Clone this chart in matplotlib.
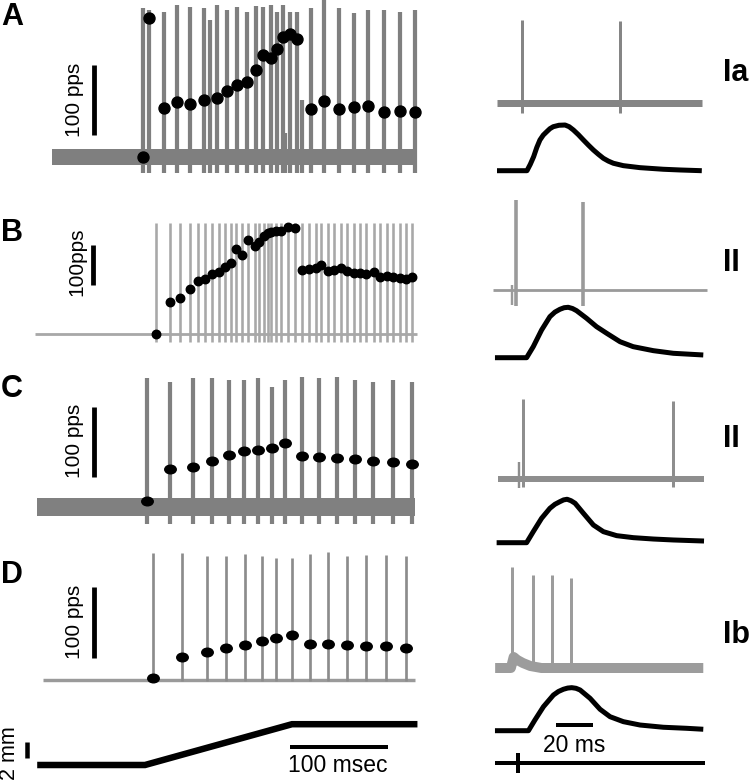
import matplotlib
matplotlib.use("Agg")
import matplotlib.pyplot as plt
from matplotlib.path import Path
from matplotlib.transforms import Affine2D

# ---------------- data ----------------
# Left column: time in ms (ramp onset = 0), instantaneous rate in pps
a_spike_t = [-2, 4, 19, 33, 46, 60, 73, 84, 94, 104, 113, 120, 129, 135, 141, 148, 155,
             169, 183, 198, 213, 228, 244, 260, 275]
a_rate = [0, 199, 70, 78, 76, 81, 84, 95, 103, 107, 124, 146, 141, 155, 172, 176, 168,
          69, 80, 69, 72, 73, 65, 66, 65]
a_spike_amp = [213, 210, 207, 217, 214, 213, 217, 210, 214, 207, 216, 214, 217, 207, 217,
               207, 207, 213, 224, 213, 206, 210, 210, 207, 210]
a_extra_t = [66, 143, 160]
a_extra_amp = [196, 34, 81]
a_span = [-95, 276]

b_spike_t = [11, 25, 36, 46, 54, 61, 68, 76, 82, 88, 93, 99, 105, 112, 116, 121, 125, 129,
             134, 139, 146, 153, 160, 167, 174, 180, 187, 193, 200, 206, 213, 219, 226, 234,
             240, 247, 253, 260, 266, 272]
b_rate = [0, 81, 91, 112, 132, 137, 150, 155, 168, 177, 212, 197, 235, 220, 231, 245, 253,
          256, 258, 257, 267, 264, 160, 162, 164, 172, 158, 160, 166, 158, 153, 152, 150,
          154, 143, 146, 143, 139, 137, 143]
b_spike_peak = 278
b_span = [-112, 278]

c_spike_t = [2, 26, 49, 68, 86, 101, 115, 130, 143, 160, 178, 196, 214, 233, 253, 272]
c_rate = [0, 45, 48, 57, 65, 71, 72, 76, 82, 64, 62, 61, 59, 57, 55, 52]
c_spike_amp = [175, 170, 175, 175, 173, 172, 176, 163, 172, 177, 175, 177, 172, 170, 172, 170]
c_span = [-110, 276]

d_spike_t = [8, 38, 63, 83, 102, 119, 134, 150, 168, 187, 206, 225, 246, 266]
d_rate = [0, 29, 36, 42, 46, 52, 56, 60, 48, 48, 46, 44, 44, 42]
d_spike_amp = [175, 175, 171, 171, 174, 172, 168, 169, 174, 177, 171, 173, 173, 171]
d_span = [-104, 276]

ramp_t = [-110, 0, 150, 278]
ramp_mm = [0, 0, 5.1, 5.1]

# Right column: time in ms, stretch in mm, spike trace in a.u.
ia_spike_t = [13.5, 66.5]
ia_spike_amp = [83, 82]
ia_span = [0, 111]
ia_stretch_t = [0, 16.2, 18, 19.8, 21.5, 23.2, 25, 26.9, 28.6, 30.4, 33.5, 36.8, 39, 41.3,
                44, 46.7, 49.4, 52.1, 54.8, 57.5, 60.2, 62.9, 68.3, 77.3, 89.9, 99, 110.7]
ia_stretch = [0, 0, 0.8, 1.75, 2.9, 3.84, 4.45, 4.88, 5.25, 5.5, 5.68, 5.71, 5.5, 5.09,
              4.5, 3.84, 3.2, 2.59, 2.05, 1.55, 1.2, 0.93, 0.63, 0.38, 0.18, 0.09, 0]

ii1_spike_t = [10.3, 46.5]
ii1_spike_amp = [90, 88]
ii1_blip_t = [8.1]
ii1_blip_amp = [5]
ii1_span = [-2, 113.5]
ii1_stretch_t = [-1.1, 16, 19.6, 24.1, 28.6, 31.3, 34, 36.3, 38.5, 40.8, 43, 48.4, 53.8,
                 59.3, 66.5, 73.6, 84.5, 95.3, 111.5]
ii1_stretch = [0, 0, 1.38, 3.46, 5.13, 5.7, 6.05, 6.25, 6.3, 6.15, 5.88, 4.93, 3.88, 3.05,
               2.0, 1.38, 0.88, 0.55, 0.34]

ii2_spike_t = [14.1, 95.1]
ii2_spike_amp = [80, 78]
ii2_blip_t = [11.9]
ii2_blip_amp = [17]
ii2_span = [0.5, 112]
ii2_stretch_t = [-0.2, 16, 19.6, 24.1, 28.6, 31.3, 34, 36, 37.9, 40, 42.2, 46.7, 52.1,
                 57.5, 64.7, 73.7, 84.5, 95.3, 111.9]
ii2_stretch = [0, 0, 1.38, 3.05, 4.3, 4.8, 5.13, 5.35, 5.43, 5.25, 4.93, 3.68, 2.21, 1.38,
               0.88, 0.63, 0.46, 0.34, 0.21]

ib_spike_t = [8.1, 19.5, 29.7, 40]
ib_spike_amp = [101, 93, 93, 90]
ib_tail_t = [-1, 7.5, 9, 11, 14, 18, 24, 111.5]
ib_tail = [0, 0, 11, 8, 5, 2, 0, 0]
ib_stretch_t = [-1.1, 17, 20.5, 25.1, 30.5, 33.2, 35.9, 38.2, 40.4, 42.7, 44.9, 50.3, 55.7,
                61.1, 68.3, 77.3, 89.9, 102.5, 111.5]
ib_stretch = [0, 0, 1.34, 3.0, 4.46, 4.9, 5.18, 5.33, 5.38, 5.3, 5.09, 4.05, 2.68, 1.75,
              1.13, 0.71, 0.43, 0.3, 0.18]
stim_span = [-1, 112.5]
stim_mark_t = 11.4

# ---------------- figure ----------------
W, H = 752, 783
plt.rcParams['font.family'] = ['Liberation Sans', 'DejaVu Sans']
fig = plt.figure(figsize=(W / 100, H / 100), dpi=100)
PT = 0.72  # points per pixel


def px_axes(x0, x1, y0, y1, ox, sx, oy, sy):
    ax = fig.add_axes([x0 / W, 1 - y1 / H, (x1 - x0) / W, (y1 - y0) / H])
    ax.set_xlim((x0 - ox) / sx, (x1 - ox) / sx)
    ax.set_ylim((oy - y1) / sy, (oy - y0) / sy)
    ax.set_axis_off()
    ax.patch.set_alpha(0)
    return ax


def ftext(x, y, s, **kw):
    fig.text(x / W, 1 - y / H, s, **kw)


ellipse = Path.unit_circle().transformed(Affine2D().scale(1.0, 0.75))

# ---- left panels ----
LX0, LX1, LOX, LSX = 0, 430, 145, 0.98
left_cfg = [
    dict(box=(0, 180), zero=157, s=0.7, span=a_span, base=0, base_lw=16, base_c='#7f7f7f',
         st=a_spike_t, samp=a_spike_amp, slow=-23, slw=4.2, sc='#7f7f7f',
         rt=a_spike_t, r=a_rate, mk='o', ms=11, bar=(94, 135), lab='100 pps', lab_xy=(75, 100),
         letter='A', let_y=25),
    dict(box=(185, 355), zero=334, s=0.4, span=b_span, base=0, base_lw=2.8, base_c='#a8a8a8',
         st=b_spike_t, samp=[b_spike_peak] * len(b_spike_t), slow=-20, slw=2.6, sc='#a8a8a8',
         rt=b_spike_t, r=b_rate, mk='o', ms=8.5, bar=(93, 285), lab='100pps', lab_xy=(77, 262),
         letter='B', let_y=241),
    dict(box=(365, 535), zero=500.7, s=0.7, span=c_span, base=-9, base_lw=18, base_c='#808080',
         st=c_spike_t, samp=c_spike_amp, slow=-33, slw=4.2, sc='#808080',
         rt=c_spike_t, r=c_rate, mk=ellipse, ms=11.5, bar=(94, 477), lab='100 pps', lab_xy=(75, 441),
         letter='C', let_y=397),
    dict(box=(545, 700), zero=677.7, s=0.71, span=d_span, base=-3, base_lw=3.4, base_c='#9a9a9a',
         st=d_spike_t, samp=d_spike_amp, slow=-5, slw=2.7, sc='#8c8c8c',
         rt=d_spike_t, r=d_rate, mk=ellipse, ms=11.5, bar=(94, 658), lab='100 pps', lab_xy=(75, 622),
         letter='D', let_y=583),
]

for i, c in enumerate(left_cfg):
    y0, y1 = c['box']
    ax = px_axes(LX0, LX1, y0, y1, LOX, LSX, c['zero'], c['s'])
    ax.plot(c['span'], [c['base'], c['base']], color=c['base_c'], lw=c['base_lw'] * PT,
            solid_capstyle='butt', clip_on=False, zorder=1)
    ax.vlines(c['st'], c['slow'], c['samp'], colors=c['sc'], linewidths=c['slw'] * PT,
              clip_on=False, zorder=2)
    if i == 0:
        ax.vlines(a_extra_t, c['slow'], a_extra_amp, colors=c['sc'],
                  linewidths=c['slw'] * PT, clip_on=False, zorder=2)
    ax.plot(c['rt'], c['r'], linestyle='none', marker=c['mk'], ms=c['ms'] * PT,
            color='black', mec='black', clip_on=False, zorder=3)
    # 100 pps scale bar
    bx, bbot = c['bar']
    tx = (bx - LOX) / LSX
    r0 = (c['zero'] - bbot) / c['s']
    ax.plot([tx, tx], [r0, r0 + 100], color='black', lw=4.8 * PT, solid_capstyle='butt',
            clip_on=False)
    lx, ly = c['lab_xy']
    ftext(lx, ly, c['lab'], rotation=90, ha='center', va='center', fontsize=15)
    ftext(1, c['let_y'], c['letter'], ha='left', va='baseline', fontsize=22, fontweight='bold')

# ramp
axr = px_axes(LX0, LX1, 700, 783, LOX, LSX, 765, 8)
axr.plot(ramp_t, ramp_mm, color='black', lw=6.5 * PT, solid_capstyle='butt',
         solid_joinstyle='miter', clip_on=False)
axr.plot([(290 - LOX) / LSX, (290 - LOX) / LSX + 100], [2.25, 2.25], color='black',
         lw=4 * PT, solid_capstyle='butt')
ftext(338, 772, '100 msec', ha='center', va='baseline', fontsize=16.5)
bx = (27 - LOX) / LSX
axr.plot([bx, bx], [0.875, 0.875 + 2], color='black', lw=4.5 * PT, solid_capstyle='butt',
         clip_on=False)
ftext(10, 753, '2 mm', rotation=90, ha='center', va='center', fontsize=15.5)

# ---- right panels ----
RX0, RX1, ROX, RSX = 480, 752, 497, 1.85
right_cfg = [
    dict(box=(0, 190), sbase=103, stb=170.7, span=ia_span, lw=7, c='#858585',
         st=ia_spike_t, samp=ia_spike_amp, slow=-10, slw=3.0, blip=None,
         xt=ia_stretch_t, xv=ia_stretch, lab='Ia', lab_y=81),
    dict(box=(190, 390), sbase=290, stb=357.7, span=ii1_span, lw=2.8, c='#9a9a9a',
         st=ii1_spike_t, samp=ii1_spike_amp, slow=-16, slw=3.6,
         blip=(ii1_blip_t, ii1_blip_amp, -15),
         xt=ii1_stretch_t, xv=ii1_stretch, lab='II', lab_y=271),
    dict(box=(390, 560), sbase=479, stb=542.7, span=ii2_span, lw=6, c='#8e8e8e',
         st=ii2_spike_t, samp=ii2_spike_amp, slow=-8, slw=3.0,
         blip=(ii2_blip_t, ii2_blip_amp, -9),
         xt=ii2_stretch_t, xv=ii2_stretch, lab='II', lab_y=447),
    dict(box=(560, 783), sbase=668, stb=730.7, span=None, lw=10, c='#9c9c9c',
         st=ib_spike_t, samp=ib_spike_amp, slow=0, slw=3.0, blip=None,
         xt=ib_stretch_t, xv=ib_stretch, lab='Ib', lab_y=643),
]

for i, c in enumerate(right_cfg):
    y0, y1 = c['box']
    axs = px_axes(RX0, RX1, y0, y1, ROX, RSX, c['sbase'], 1.0)
    if c['span'] is not None:
        axs.plot(c['span'], [0, 0], color=c['c'], lw=c['lw'] * PT, solid_capstyle='butt',
                 clip_on=False, zorder=1)
    else:
        axs.plot(ib_tail_t, ib_tail, color=c['c'], lw=c['lw'] * PT, solid_capstyle='butt',
                 clip_on=False, zorder=1)
    axs.vlines(c['st'], c['slow'], c['samp'], colors=c['c'], linewidths=c['slw'] * PT,
               clip_on=False, zorder=2)
    if c['blip'] is not None:
        bt, ba, bl = c['blip']
        axs.vlines(bt, bl, ba, colors=c['c'], linewidths=2.4 * PT, clip_on=False, zorder=2)
    axx = px_axes(RX0, RX1, y0, y1, ROX, RSX, c['stb'], 8.0)
    axx.plot(c['xt'], c['xv'], color='black', lw=5.0 * PT, solid_capstyle='butt',
             solid_joinstyle='round', clip_on=False)
    ftext(723, c['lab_y'], c['lab'], ha='left', va='baseline', fontsize=22, fontweight='bold')
    if i == 3:
        axx.plot([(556 - ROX) / RSX, (556 - ROX) / RSX + 20], [0.7, 0.7], color='black',
                 lw=4 * PT, solid_capstyle='butt')
        axx.plot(stim_span, [-4.04, -4.04], color='black', lw=4 * PT, solid_capstyle='butt',
                 clip_on=False)
        axx.plot([stim_mark_t, stim_mark_t], [-2.8, -5.3], color='black', lw=4 * PT,
                 solid_capstyle='butt', clip_on=False)
        ftext(574, 752, '20 ms', ha='center', va='baseline', fontsize=16.5)

fig.savefig('out.png', dpi=100)
